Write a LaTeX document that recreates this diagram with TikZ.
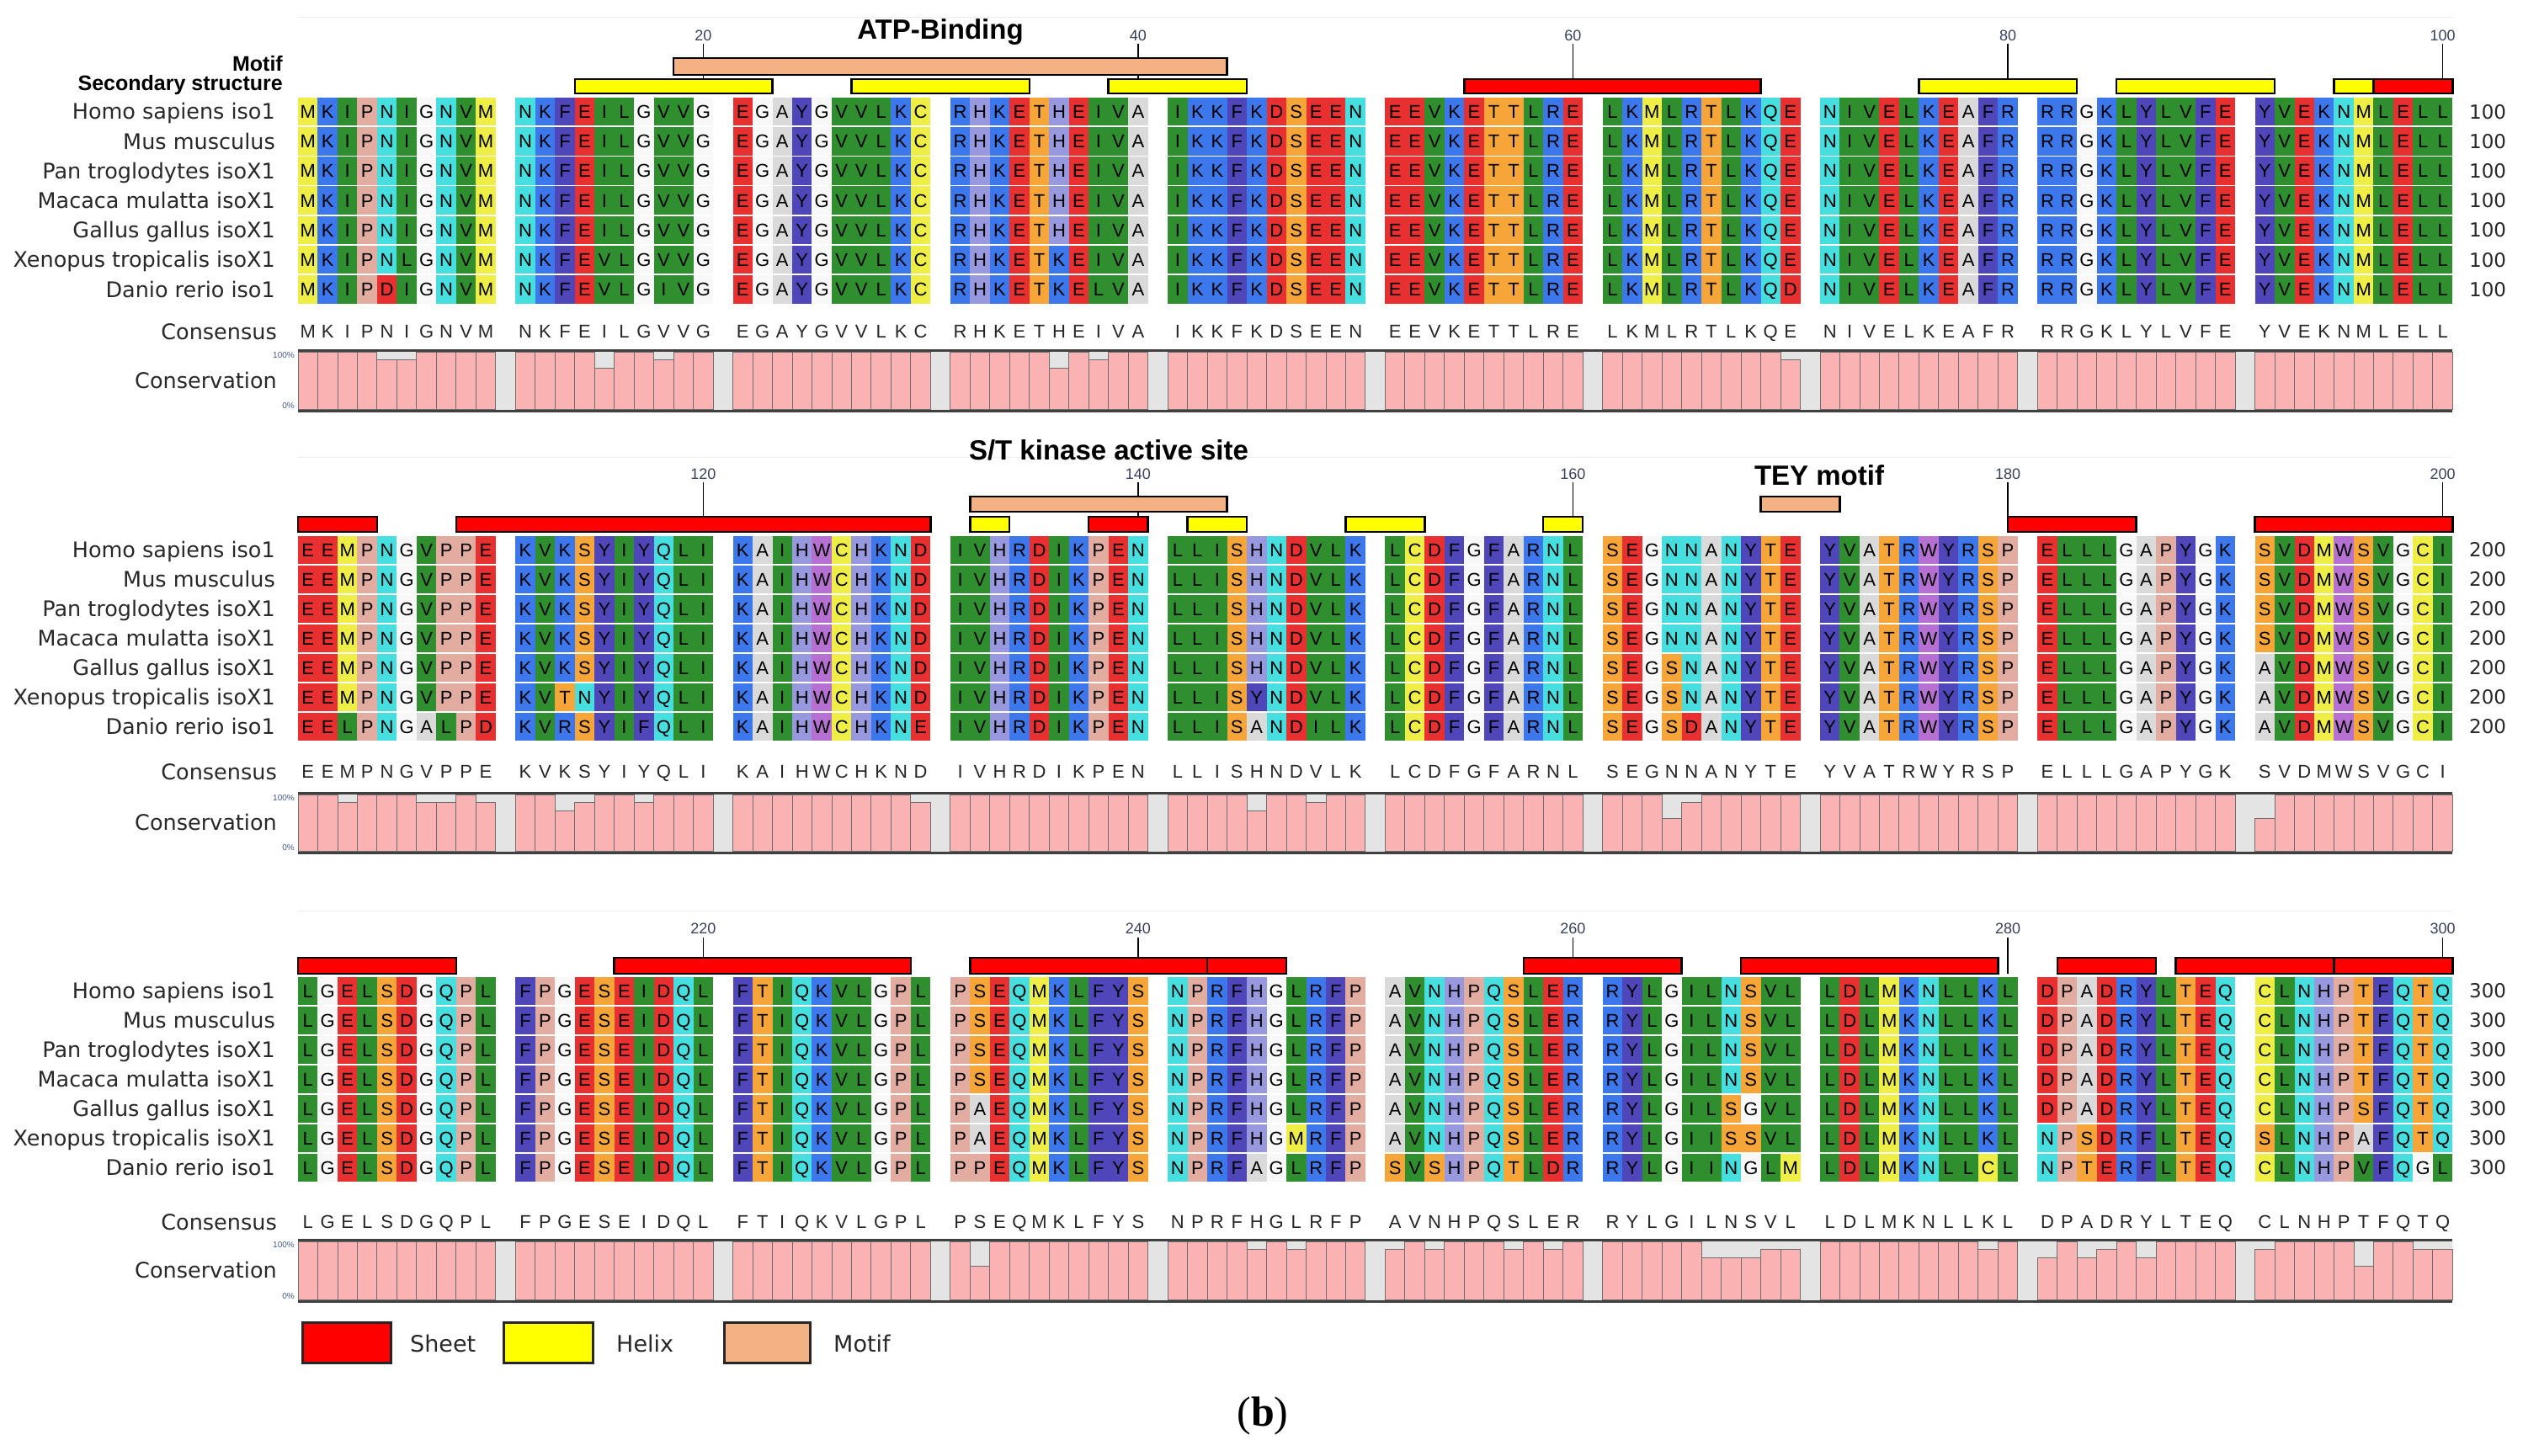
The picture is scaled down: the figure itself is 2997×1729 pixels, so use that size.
\documentclass[tikz,border=0pt]{standalone}
\usepackage{fontspec}
\setmainfont{Liberation Sans}
\newfontfamily\labfont{DejaVu Sans}
\newfontfamily\capfont{Liberation Serif}
\usetikzlibrary{positioning}
% residue colours, one per letter
\definecolor{resA}{RGB}{218,218,218}
\definecolor{resC}{RGB}{238,238,70}
\definecolor{resD}{RGB}{232,48,48}
\definecolor{resE}{RGB}{232,48,48}
\definecolor{resF}{RGB}{78,70,185}
\definecolor{resG}{RGB}{248,248,248}
\definecolor{resH}{RGB}{152,152,222}
\definecolor{resI}{RGB}{47,143,47}
\definecolor{resK}{RGB}{60,120,235}
\definecolor{resL}{RGB}{47,143,47}
\definecolor{resM}{RGB}{238,238,70}
\definecolor{resN}{RGB}{70,222,222}
\definecolor{resP}{RGB}{226,172,160}
\definecolor{resQ}{RGB}{70,222,222}
\definecolor{resR}{RGB}{60,120,235}
\definecolor{resS}{RGB}{246,166,56}
\definecolor{resT}{RGB}{246,166,56}
\definecolor{resV}{RGB}{47,143,47}
\definecolor{resW}{RGB}{182,112,210}
\definecolor{resY}{RGB}{78,70,185}
\definecolor{sheetcolor}{RGB}{255,0,0}
\definecolor{helixcolor}{RGB}{255,255,0}
\definecolor{motifcolor}{RGB}{244,177,131}
\definecolor{conspink}{RGB}{250,178,178}
\definecolor{consgray}{RGB}{228,228,228}
\definecolor{consedge}{RGB}{110,110,110}
\definecolor{tickcolor}{RGB}{55,65,90}
\definecolor{pctcolor}{RGB}{70,90,140}
\definecolor{labelcolor}{RGB}{40,40,40}
\tikzset{
resletter/.style={
  inner sep=0pt,
  font=\fontsize{22}{22}\selectfont,
  text height=15.8pt,
  text depth=0pt
},
consletter/.style={
  resletter,
  text=black!85
},
rowlabel/.style={
  anchor=east,
  inner sep=0pt,
  font=\labfont\fontsize{25.5}{25.5}\selectfont,
  text=labelcolor,
  text height=18.6pt,
  text depth=0pt
},
endlabel/.style={
  anchor=west,
  inner sep=0pt,
  font=\labfont\fontsize{23}{23}\selectfont,
  text=labelcolor,
  text height=16.8pt,
  text depth=0pt
},
ticklabel/.style={
  inner sep=0pt,
  font=\fontsize{18}{18}\selectfont,
  text=tickcolor
},
pctlabel/.style={
  anchor=east,
  inner sep=0pt,
  font=\fontsize{10}{10}\selectfont,
  text=pctcolor
},
titlelabel/.style={
  inner sep=0pt,
  font=\bfseries\fontsize{33}{33}\selectfont
},
tracklabel/.style={
  anchor=base east,
  inner sep=0pt,
  font=\bfseries\fontsize{25}{25}\selectfont
},
sheetbar/.style={draw=black, line width=2.4pt, fill=sheetcolor},
helixbar/.style={draw=black, line width=2.4pt, fill=helixcolor},
motifbar/.style={draw=black, line width=2.4pt, fill=motifcolor},
consbar/.style={fill=conspink, draw=consedge, line width=0.9pt},
consrule/.style={draw=black!75, line width=3pt},
tickline/.style={draw=black, line width=1.6pt},
legendbox/.style={draw=black!85, line width=3pt},
legendtext/.style={
  anchor=west,
  inner sep=0pt,
  font=\labfont\fontsize{27}{27}\selectfont,
  text=labelcolor
},
divider/.style={draw=black!7, line width=1pt}
}
% walking a string of residues, one column per letter
\newcount\rescol
\def\walkseq#1{\ifx#1\relax\else\doitem{#1}\advance\rescol by 1 \expandafter\walkseq\fi}
\newcommand\slotx{354+(\the\rescol+floor(\the\rescol/10))*23.48}
\newcommand\drawres[1]{%
  \pgfmathsetmacro\resx{\slotx}%
  \pgfmathsetmacro\resy{\blocktop+(\currow-1)*\rowpitch}%
  \edef\resname{b\curblock r\currow c\the\rescol}%
  \fill[res#1] (\resx,\resy+0.8) rectangle ++(23.48,\rowpitch-1.6);
  \node[resletter] (\resname) at (\resx+11.74,\resy+0.5*\rowpitch) {#1};%
}
\newcommand\drawcons[1]{%
  \pgfmathsetmacro\resx{\slotx}%
  \edef\resname{b\curblock k\the\rescol}%
  \node[consletter] (\resname) at (\resx+11.74,\consy) {#1};%
}
\newcommand\drawbar[1]{%
  \pgfmathsetmacro\resx{\slotx}%
  \draw[consbar] (\resx,\consbot-2) rectangle ++(23.48,{-#1/7*(\consbot-\constop-4)});%
}
\newcommand\seqrow[2]{\def\currow{#1}\rescol=0 \let\doitem\drawres\walkseq#2\relax}
\newcommand\consensusrow[1]{\rescol=0 \let\doitem\drawcons\walkseq#1\relax}
\newcommand\conservation[1]{\rescol=0 \let\doitem\drawbar\walkseq#1\relax}
\newcommand\ssbar[5]{\draw[#1] (354+#2*23.48,#4) rectangle (354+#3*23.48,#5);}
% block: number, row top, row pitch, consensus y, box top, box bottom
\newcommand\alignblock[6]{%
  \def\curblock{#1}\def\blocktop{#2}\def\rowpitch{#3}%
  \def\consy{#4}\def\constop{#5}\def\consbot{#6}%
  \foreach \sp [count=\i] in {Homo sapiens iso1, Mus musculus, Pan troglodytes isoX1,
      Macaca mulatta isoX1, Gallus gallus isoX1, Xenopus tropicalis isoX1, Danio rerio iso1}{
    \node[rowlabel] (b#1name\i) at (327,#2+\i*#3-0.5*#3) {\sp};
    \node[endlabel] (b#1end\i) at (2933,#2+\i*#3-0.5*#3) {#100};
  }
  \node[rowlabel] (b#1cons) at (329,#4) {Consensus};
  \node[rowlabel] (b#1conv) at (329,{(#5+#6)/2}) {Conservation};
  \node[pctlabel] (b#1top) at (350,#5+6) {100\%};
  \node[pctlabel] (b#1bot) at (350,#6-6) {0\%};
  \fill[consgray] (354,#5) rectangle (2913.3,#6);
}
\newcommand\boxrules{%
  \draw[consrule] (354,\constop) -- (2913.3,\constop);
  \draw[consrule] (354,\consbot) -- (2913.3,\consbot);
}

\begin{document}
\begin{tikzpicture}[x=1pt, y=-1pt]
  \useasboundingbox[fill=white] (0,0) rectangle (2997,1729);
  \draw[divider] (354,20) -- (2913,20);
  \draw[divider] (354,543) -- (2913,543);
  \draw[divider] (354,1082) -- (2913,1082);

  % block 1: residues 1-100
  \node[titlelabel] (atp) at (1117,38) {ATP-Binding};
  \node[tracklabel] (motiflab) at (336,84) {Motif};
  \node[tracklabel] (sslab) at (336,107) {Secondary structure};
  \foreach \s/\n in {20/20,42/40,64/60,86/80,108/100}{
    \draw[tickline] (354+\s*23.48+11.74,52) -- (354+\s*23.48+11.74,111);
    \node[ticklabel] (t\n) at (354+\s*23.48+11.74,42) {\n};
  }
  \ssbar{motifbar}{19}{47}{69}{89}
  \ssbar{helixbar}{14}{24}{94}{111}
  \ssbar{helixbar}{28}{37}{94}{111}
  \ssbar{helixbar}{41}{48}{94}{111}
  \ssbar{sheetbar}{59}{74}{94}{111}
  \ssbar{helixbar}{82}{90}{94}{111}
  \ssbar{helixbar}{92}{100}{94}{111}
  \ssbar{helixbar}{103}{105}{94}{111}
  \ssbar{sheetbar}{105}{109}{94}{111}
  \alignblock{1}{115}{35.2}{394}{416}{488}
  \seqrow{1}{MKIPNIGNVM NKFEILGVVG EGAYGVVLKC RHKETHEIVA IKKFKDSEEN EEVKETTLRE LKMLRTLKQE NIVELKEAFR RRGKLYLVFE YVEKNMLELL}
  \seqrow{2}{MKIPNIGNVM NKFEILGVVG EGAYGVVLKC RHKETHEIVA IKKFKDSEEN EEVKETTLRE LKMLRTLKQE NIVELKEAFR RRGKLYLVFE YVEKNMLELL}
  \seqrow{3}{MKIPNIGNVM NKFEILGVVG EGAYGVVLKC RHKETHEIVA IKKFKDSEEN EEVKETTLRE LKMLRTLKQE NIVELKEAFR RRGKLYLVFE YVEKNMLELL}
  \seqrow{4}{MKIPNIGNVM NKFEILGVVG EGAYGVVLKC RHKETHEIVA IKKFKDSEEN EEVKETTLRE LKMLRTLKQE NIVELKEAFR RRGKLYLVFE YVEKNMLELL}
  \seqrow{5}{MKIPNIGNVM NKFEILGVVG EGAYGVVLKC RHKETHEIVA IKKFKDSEEN EEVKETTLRE LKMLRTLKQE NIVELKEAFR RRGKLYLVFE YVEKNMLELL}
  \seqrow{6}{MKIPNLGNVM NKFEVLGVVG EGAYGVVLKC RHKETKEIVA IKKFKDSEEN EEVKETTLRE LKMLRTLKQE NIVELKEAFR RRGKLYLVFE YVEKNMLELL}
  \seqrow{7}{MKIPDIGNVM NKFEVLGIVG EGAYGVVLKC RHKETKELVA IKKFKDSEEN EEVKETTLRE LKMLRTLKQD NIVELKEAFR RRGKLYLVFE YVEKNMLELL}
  \consensusrow{MKIPNIGNVM NKFEILGVVG EGAYGVVLKC RHKETHEIVA IKKFKDSEEN EEVKETTLRE LKMLRTLKQE NIVELKEAFR RRGKLYLVFE YVEKNMLELL}
  \conservation{7777667777 7777577677 7777777777 7777757677 7777777777 7777777777 7777777776 7777777777 7777777777 7777777777}
  \boxrules

  % block 2: residues 101-200
  \node[titlelabel] (stk) at (1317,535) {S/T kinase active site};
  \node[titlelabel] (tey) at (2161,565) {TEY motif};
  \foreach \s/\n in {20/120,42/140,64/160,86/180,108/200}{
    \draw[tickline] (354+\s*23.48+11.74,573) -- (354+\s*23.48+11.74,632);
    \node[ticklabel] (t\n) at (354+\s*23.48+11.74,563) {\n};
  }
  \ssbar{sheetbar}{0}{4}{614}{632}
  \ssbar{sheetbar}{8}{32}{614}{632}
  \ssbar{motifbar}{34}{47}{590}{608}
  \ssbar{helixbar}{34}{36}{614}{632}
  \ssbar{sheetbar}{40}{43}{614}{632}
  \ssbar{helixbar}{45}{48}{614}{632}
  \ssbar{helixbar}{53}{57}{614}{632}
  \ssbar{helixbar}{63}{65}{614}{632}
  \ssbar{motifbar}{74}{78}{590}{608}
  \ssbar{sheetbar}{86.5}{93}{614}{632}
  \ssbar{sheetbar}{99}{109}{614}{632}
  \alignblock{2}{636}{35}{917}{942}{1013}
  \seqrow{1}{EEMPNGVPPE KVKSYIYQLI KAIHWCHKND IVHRDIKPEN LLISHNDVLK LCDFGFARNL SEGNNANYTE YVATRWYRSP ELLLGAPYGK SVDMWSVGCI}
  \seqrow{2}{EEMPNGVPPE KVKSYIYQLI KAIHWCHKND IVHRDIKPEN LLISHNDVLK LCDFGFARNL SEGNNANYTE YVATRWYRSP ELLLGAPYGK SVDMWSVGCI}
  \seqrow{3}{EEMPNGVPPE KVKSYIYQLI KAIHWCHKND IVHRDIKPEN LLISHNDVLK LCDFGFARNL SEGNNANYTE YVATRWYRSP ELLLGAPYGK SVDMWSVGCI}
  \seqrow{4}{EEMPNGVPPE KVKSYIYQLI KAIHWCHKND IVHRDIKPEN LLISHNDVLK LCDFGFARNL SEGNNANYTE YVATRWYRSP ELLLGAPYGK SVDMWSVGCI}
  \seqrow{5}{EEMPNGVPPE KVKSYIYQLI KAIHWCHKND IVHRDIKPEN LLISHNDVLK LCDFGFARNL SEGSNANYTE YVATRWYRSP ELLLGAPYGK AVDMWSVGCI}
  \seqrow{6}{EEMPNGVPPE KVTNYIYQLI KAIHWCHKND IVHRDIKPEN LLISYNDVLK LCDFGFARNL SEGSNANYTE YVATRWYRSP ELLLGAPYGK AVDMWSVGCI}
  \seqrow{7}{EELPNGALPD KVRSYIFQLI KAIHWCHKNE IVHRDIKPEN LLISANDILK LCDFGFARNL SEGSDANYTE YVATRWYRSP ELLLGAPYGK AVDMWSVGCI}
  \consensusrow{EEMPNGVPPE KVKSYIYQLI KAIHWCHKND IVHRDIKPEN LLISHNDVLK LCDFGFARNL SEGNNANYTE YVATRWYRSP ELLLGAPYGK SVDMWSVGCI}
  \conservation{7767776676 7756776777 7777777776 7777777777 7777577677 7777777777 7774677777 7777777777 7777777777 4777777777}
  \boxrules

  % block 3: residues 201-300
  \foreach \s/\n in {20/220,42/240,64/260,86/280,108/300}{
    \draw[tickline] (354+\s*23.48+11.74,1114) -- (354+\s*23.48+11.74,1157);
    \node[ticklabel] (t\n) at (354+\s*23.48+11.74,1103) {\n};
  }
  \ssbar{sheetbar}{0}{8}{1138}{1157}
  \ssbar{sheetbar}{16}{31}{1138}{1157}
  \ssbar{sheetbar}{34}{46}{1138}{1157}
  \ssbar{sheetbar}{46}{50}{1138}{1157}
  \ssbar{sheetbar}{62}{70}{1138}{1157}
  \ssbar{sheetbar}{73}{86}{1138}{1157}
  \ssbar{sheetbar}{89}{94}{1138}{1157}
  \ssbar{sheetbar}{95}{103}{1138}{1157}
  \ssbar{sheetbar}{103}{109}{1138}{1157}
  \alignblock{3}{1160}{35}{1452}{1473}{1546}
  \seqrow{1}{LGELSDGQPL FPGESEIDQL FTIQKVLGPL PSEQMKLFYS NPRFHGLRFP AVNHPQSLER RYLGILNSVL LDLMKNLLKL DPADRYLTEQ CLNHPTFQTQ}
  \seqrow{2}{LGELSDGQPL FPGESEIDQL FTIQKVLGPL PSEQMKLFYS NPRFHGLRFP AVNHPQSLER RYLGILNSVL LDLMKNLLKL DPADRYLTEQ CLNHPTFQTQ}
  \seqrow{3}{LGELSDGQPL FPGESEIDQL FTIQKVLGPL PSEQMKLFYS NPRFHGLRFP AVNHPQSLER RYLGILNSVL LDLMKNLLKL DPADRYLTEQ CLNHPTFQTQ}
  \seqrow{4}{LGELSDGQPL FPGESEIDQL FTIQKVLGPL PSEQMKLFYS NPRFHGLRFP AVNHPQSLER RYLGILNSVL LDLMKNLLKL DPADRYLTEQ CLNHPTFQTQ}
  \seqrow{5}{LGELSDGQPL FPGESEIDQL FTIQKVLGPL PAEQMKLFYS NPRFHGLRFP AVNHPQSLER RYLGILSGVL LDLMKNLLKL DPADRYLTEQ CLNHPSFQTQ}
  \seqrow{6}{LGELSDGQPL FPGESEIDQL FTIQKVLGPL PAEQMKLFYS NPRFHGMRFP AVNHPQSLER RYLGIISSVL LDLMKNLLKL NPSDRFLTEQ SLNHPAFQTQ}
  \seqrow{7}{LGELSDGQPL FPGESEIDQL FTIQKVLGPL PPEQMKLFYS NPRFAGLRFP SVSHPQTLDR RYLGIINGLM LDLMKNLLCL NPTERFLTEQ CLNHPVFQGL}
  \consensusrow{LGELSDGQPL FPGESEIDQL FTIQKVLGPL PSEQMKLFYS NPRFHGLRFP AVNHPQSLER RYLGILNSVL LDLMKNLLKL DPADRYLTEQ CLNHPTFQTQ}
  \conservation{7777777777 7777777777 7777777777 7477777777 7777676777 6767776767 7777755566 7777777767 5756757777 6777747766}
  \boxrules

  % legend
  \draw[legendbox, fill=sheetcolor] (359,1571) rectangle (464,1619);
  \node[legendtext] (lsheet) at (487,1596) {Sheet};
  \draw[legendbox, fill=helixcolor] (598,1571) rectangle (704,1619);
  \node[legendtext] (lhelix) at (732,1596) {Helix};
  \draw[legendbox, fill=motifcolor] (860,1571) rectangle (962,1619);
  \node[legendtext] (lmotif) at (990,1596) {Motif};

  \node[font=\capfont\fontsize{50}{50}\selectfont] (panel) at (1500,1682) {(\textbf{b})};
\end{tikzpicture}
\end{document}
